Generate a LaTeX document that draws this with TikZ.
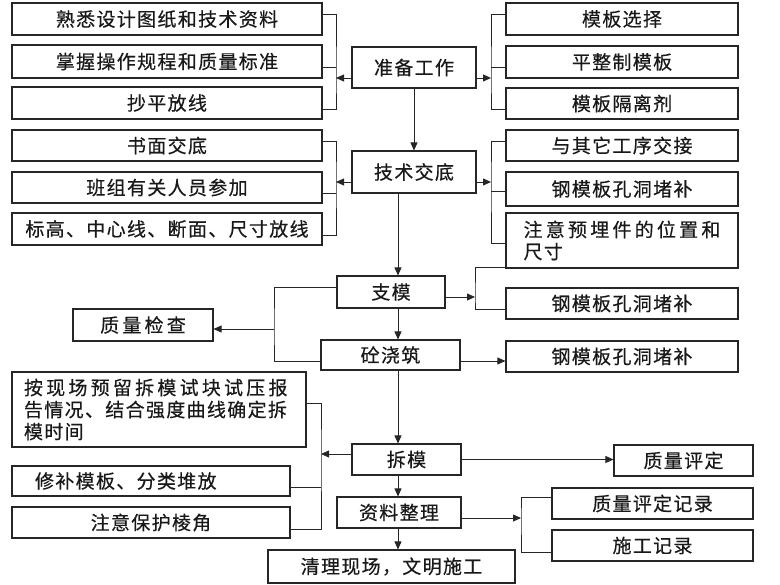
\documentclass[tikz,border=0pt]{standalone}
\usepackage{fontspec}
\usetikzlibrary{arrows.meta}
\newfontfamily\cjk{Noto Sans CJK SC}[LetterSpace=7, FakeBold=0.4]
\newfontfamily\cjkwide{Noto Sans CJK SC}[LetterSpace=17, FakeBold=0.4]

\tikzset{
  box/.style={draw=black!85, line width=1.1pt, inner sep=0pt, text=black!90,
    font=\cjk\fontsize{19}{22}\selectfont},
  lbox/.style={box, minimum width=310pt, minimum height=32pt},
  rbox/.style={box, minimum width=232pt, minimum height=32pt},
  link/.style={draw=black!85, line width=0.8pt},
  arr/.style={link, -{Triangle[length=8pt,width=7pt]}}
}

\begin{document}
\begin{tikzpicture}[x=1pt, y=-1pt]
                    \path[use as bounding box, fill=white] (0,0) rectangle (780,585);

                    \node[lbox] (shuxi) at (167,19) {熟悉设计图纸和技术资料};
                    \node[lbox, minimum height=33pt] (zhangwo) at (167,61.5) {掌握操作规程和质量标准};
                    \node[lbox] (chaoping) at (167,103) {抄平放线};
                    \node[lbox, minimum height=31pt] (shumian) at (167,145.5) {书面交底};
                    \node[lbox, minimum height=31pt] (banzu) at (167,187.5) {班组有关人员参加};
                    \node[lbox] (biaogao) at (167,229) {标高、中心线、断面、尺寸放线};

                    \node[box, minimum width=124pt, minimum height=41pt] (zhunbei) at (414,67.5) {准备工作};
                    \node[box, minimum width=124pt, minimum height=42pt] (jishu) at (414,172) {技术交底};

                    \node[rbox] (xuanze) at (622,19) {模板选择};
                    \node[rbox] (pingzheng) at (622,62) {平整制模板};
                    \node[rbox, minimum height=31pt] (geli) at (622,103.5) {模板隔离剂};
                    \node[rbox, minimum height=31pt] (jiaojie) at (622,145.5) {与其它工序交接};
                    \node[rbox, minimum height=34pt] (dubu) at (622,189) {钢模板孔洞堵补};
                    \node[rbox, minimum height=55pt, align=left] (yumai) at (622,240.5)
                      {\cjkwide 注意预埋件的位置和\\尺寸};
                    \node[rbox, minimum height=31pt] (dubub) at (622,303.5) {钢模板孔洞堵补};
                    \node[rbox, minimum height=31pt] (dubuc) at (622,356.5) {钢模板孔洞堵补};

                    \node[box, minimum width=108pt, minimum height=32pt] (zhimo) at (391,292) {支模};
                    \node[box, minimum width=140pt, minimum height=32pt] (zhiliang) at (143,325) {\cjkwide 质量检查};
                    \node[box, minimum width=139pt, minimum height=30pt] (jiaozhu) at (390.5,355) {砼浇筑};

                    \node[box, minimum width=294pt, minimum height=75pt, text width=270pt, align=left] (anxian) at (159,409.5)
                      {{\cjkwide 按现场预留拆模试块试压报}\\告情况、结合强度曲线确定拆\\模时间};
                    \node[box, minimum width=278pt, minimum height=30pt, text width=232pt, align=left] (xiubu) at (151,481)
                      {修补模板、分类堆放};
                    \node[box, minimum width=278pt, minimum height=31pt] (baohu) at (151,522.5) {注意保护棱角};

                    \node[box, minimum width=109pt, minimum height=31pt] (chaimo) at (406.5,459.5) {拆模};
                    \node[box, minimum width=139pt, minimum height=31pt] (pingding) at (683.5,460.5) {质量评定};
                    \node[box, minimum width=124pt, minimum height=31pt] (ziliao) at (399,512.5) {资料整理};
                    \node[box, minimum width=201pt, minimum height=31pt] (jilu) at (652.5,503.5) {质量评定记录};
                    \node[box, minimum width=201pt, minimum height=31pt] (shigong) at (652.5,545.5) {施工记录};
                    \node[box, minimum width=247pt, minimum height=33pt] (qingli) at (391.5,566.5) {清理现场，文明施工};

                    \coordinate (sp) at (398,0);
                    \coordinate (bla) at (336,78);
                    \coordinate (bra) at (491,78);
                    \coordinate (blb) at (336,182);
                    \coordinate (brb) at (491,182);
                    \coordinate (brc) at (475,297);
                    \coordinate (blc) at (274,329);
                    \coordinate (bld) at (321,454);
                    \coordinate (brd) at (521,518);

                    \draw[link] ([yshift=5pt]shuxi.east) -| (bla) |- ([yshift=-6pt]chaoping.east);
                    \path ([yshift=-5.5pt]zhangwo.east) coordinate (za);
                    \draw[link] (za) -- (za -| bla);
                    \draw[arr] (zhunbei.west |- bla) -- (bla);

                    \draw[link] ([yshift=5pt]xuanze.west) -| (bra) |- ([yshift=-5.5pt]geli.west);
                    \path ([yshift=-5pt]pingzheng.west) coordinate (pa);
                    \draw[link] (pa) -- (pa -| bra);
                    \draw[arr] (zhunbei.east |- bra) -- (bra);

                    \draw[arr] (zhunbei.south) -- (jishu.north);

                    \draw[link] ([yshift=4.5pt]shumian.east) -| (blb) |- ([yshift=-6pt]biaogao.east);
                    \path ([yshift=-5.5pt]banzu.east) coordinate (ba);
                    \draw[link] (ba) -- (ba -| blb);
                    \draw[arr] (jishu.west |- blb) -- (blb);

                    \draw[link] ([yshift=4.5pt]jiaojie.west) -| (brb) |- ([yshift=-2.5pt]yumai.west);
                    \path ([yshift=-2pt]dubu.west) coordinate (da);
                    \draw[link] (da) -- (da -| brb);
                    \draw[arr] (jishu.east |- brb) -- (brb);

                    \draw[arr] (jishu.south -| sp) -- (zhimo.north -| sp);

                    \draw[link] ([yshift=1pt]yumai.south west) -| (brc) |- ([yshift=-5.5pt]dubub.west);
                    \draw[arr] (zhimo.east |- brc) -- (brc);

                    \draw[link] ([yshift=5pt]zhimo.west) -| (blc) |- ([yshift=-6pt]jiaozhu.west);
                    \draw[arr] (blc) -- (zhiliang.east |- blc);

                    \draw[arr] (zhimo.south -| sp) -- (jiaozhu.north -| sp);
                    \path ([yshift=-6pt]jiaozhu.east) coordinate (ja);
                    \draw[arr] (ja) -- (ja -| dubuc.west);

                    \draw[arr] (jiaozhu.south -| sp) -- (chaimo.north -| sp);

                    \draw[link] ([yshift=6.5pt]anxian.east) -| (bld) |- ([yshift=-6.5pt]baohu.east);
                    \path ([yshift=-6pt]xiubu.east) coordinate (xa);
                    \draw[link] (xa) -- (xa -| bld);
                    \draw[arr] (chaimo.west |- bld) -- (bld);

                    \draw[arr] (chaimo.east) -- (chaimo.east -| pingding.west);
                    \draw[arr] (chaimo.south -| sp) -- (ziliao.north -| sp);

                    \draw[link] ([yshift=6.5pt]jilu.west) -| (brd) |- ([yshift=-6.5pt]shigong.west);
                    \draw[arr] (ziliao.east |- brd) -- (brd);

                    \draw[arr] (ziliao.south -| sp) -- (qingli.north -| sp);
                \end{tikzpicture}
\end{document}
